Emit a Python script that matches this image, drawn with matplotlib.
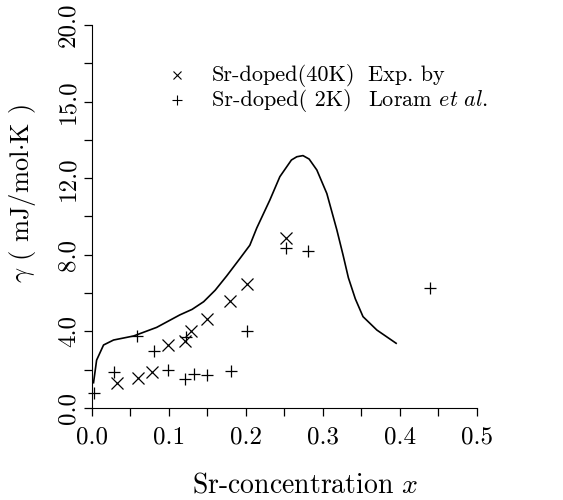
import numpy as np
import matplotlib
matplotlib.use('Agg')
import matplotlib.pyplot as plt
from matplotlib.ticker import MultipleLocator, FixedLocator, FixedFormatter

plt.rcParams['font.family'] = ['cmr10', 'DejaVu Serif']
plt.rcParams['mathtext.fontset'] = 'cm'
plt.rcParams['axes.unicode_minus'] = False
plt.rcParams['axes.formatter.use_mathtext'] = True

# theory curve
x_curve = [0.002, 0.006, 0.015, 0.028, 0.054, 0.084, 0.114, 0.130, 0.145, 0.160,
           0.175, 0.192, 0.205, 0.214, 0.231, 0.244, 0.259, 0.266, 0.274, 0.282,
           0.292, 0.305, 0.318, 0.326, 0.333, 0.342, 0.352, 0.370, 0.395]
y_curve = [1.32, 2.50, 3.29, 3.55, 3.76, 4.21, 4.86, 5.15, 5.55, 6.15,
           6.90, 7.80, 8.50, 9.40, 10.86, 12.08, 12.95, 13.12, 13.18, 13.00,
           12.43, 11.20, 9.30, 8.00, 6.80, 5.70, 4.77, 4.07, 3.38]

# Sr-doped 40K (x markers)
x_40k = [0.032, 0.060, 0.078, 0.099, 0.121, 0.128, 0.149, 0.179, 0.201, 0.252]
y_40k = [1.32, 1.55, 1.86, 3.29, 3.50, 4.04, 4.63, 5.60, 6.48, 8.86]

# Sr-doped 2K (+ markers)
x_2k = [0.002, 0.028, 0.058, 0.081, 0.099, 0.121, 0.122, 0.132, 0.150, 0.180,
        0.201, 0.252, 0.280, 0.439]
y_2k = [0.80, 1.90, 3.76, 3.00, 1.96, 1.52, 3.70, 1.76, 1.74, 1.95,
        4.02, 8.34, 8.22, 6.25]

ytick_vals = [0, 4, 8, 12, 16, 20]
ytick_labels = ['0.0', '4.0', '8.0', '12.0', '15.0', '20.0']

fig = plt.figure(figsize=(5.63, 5.0), dpi=100)
ax = fig.add_axes([0.1634, 0.184, 0.6838, 0.766])

ax.plot(x_curve, y_curve, color='black', lw=1.2)
ax.plot(x_40k, y_40k, 'x', color='black', ms=9, mew=0.9, clip_on=False)
ax.plot(x_2k, y_2k, '+', color='black', ms=8.5, mew=0.9, clip_on=False)

ax.set_xlim(0, 0.5)
ax.set_ylim(0, 20)
ax.spines['top'].set_visible(False)
ax.spines['right'].set_visible(False)

ax.xaxis.set_major_locator(MultipleLocator(0.1))
ax.xaxis.set_minor_locator(MultipleLocator(0.05))
ax.xaxis.set_major_formatter(plt.FuncFormatter(lambda v, p: '%.1f' % v))
ax.yaxis.set_major_locator(FixedLocator(ytick_vals))
ax.yaxis.set_major_formatter(FixedFormatter(ytick_labels))
ax.yaxis.set_minor_locator(MultipleLocator(2))

ax.tick_params(which='both', direction='out', length=6, width=0.9)
ax.tick_params(axis='x', labelsize=18, pad=7)
ax.tick_params(axis='y', labelsize=18, pad=3)
for lab in ax.get_yticklabels():
    lab.set_rotation(90)
    lab.set_va('center')

ax.set_xlabel(r'Sr-concentration $x$', fontsize=20)
ax.set_ylabel(r'$\gamma$ ( mJ/mol$\cdot$K )', fontsize=19)
ax.xaxis.set_label_coords(0.553, -0.168)
ax.yaxis.set_label_coords(-0.14, 0.561)

# key
ax.plot([0.221], [0.869], 'x', color='black', ms=6, mew=0.8,
        transform=ax.transAxes, clip_on=False)
ax.plot([0.221], [0.804], '+', color='black', ms=7, mew=0.8,
        transform=ax.transAxes, clip_on=False)
ax.text(0.312, 0.869, 'Sr-doped(40K)', transform=ax.transAxes, fontsize=16, va='center')
ax.text(0.312, 0.804, 'Sr-doped( 2K)', transform=ax.transAxes, fontsize=16, va='center')
ax.text(0.717, 0.869, 'Exp. by', transform=ax.transAxes, fontsize=16, va='center')
ax.text(0.717, 0.804, r'Loram $et\ al.$', transform=ax.transAxes, fontsize=16, va='center')

fig.savefig('out.png', dpi=100)
